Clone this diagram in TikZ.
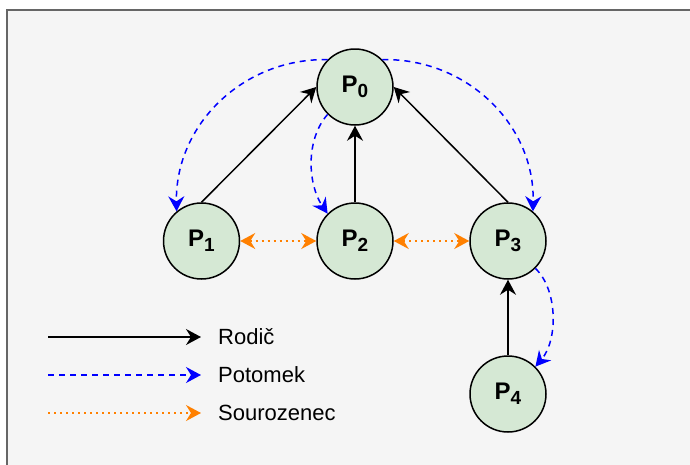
\documentclass[tikz,border=0pt]{standalone}
\usepackage{fontspec}
\setmainfont{Liberation Sans}
\usetikzlibrary{arrows.meta}
\definecolor{bgfill}{HTML}{F5F5F5}
\definecolor{bgline}{HTML}{666666}
\definecolor{nodefill}{HTML}{D5E8D4}
\definecolor{potblue}{HTML}{0000FF}
\definecolor{sorange}{HTML}{FF8000}
\tikzset{
  proc/.style={circle, draw=black, fill=nodefill, line width=1.5pt,
    minimum size=76pt, inner sep=0pt,
    font=\fontsize{24}{28}\selectfont\bfseries},
  tipstyle/.style={-{Stealth[length=15pt,width=16pt,inset=5pt]}},
  rodic/.style={tipstyle, draw=black, line width=1.5pt},
  potomek/.style={tipstyle, draw=potblue, line width=1.5pt,
    dash pattern=on 6pt off 5pt},
  souroz/.style={{Stealth[length=15pt,width=16pt,inset=5pt]}-{Stealth[length=15pt,width=16pt,inset=5pt]},
    draw=sorange, line width=1.5pt, dash pattern=on 2pt off 4pt},
  sourlegend/.style={tipstyle, draw=sorange, line width=1.5pt, dash pattern=on 2pt off 4pt},
  legtext/.style={anchor=west, inner sep=0pt, font=\fontsize{22}{26}\selectfont},
}
\newcommand{\pl}[1]{P\raisebox{-5pt}{\fontsize{19}{22}\selectfont #1}}
\begin{document}
\begin{tikzpicture}[x=1pt,y=-1pt]
\useasboundingbox (0,0) rectangle (690,464);
\fill[bgfill] (7,10) rectangle (700,480);
\draw[bgline, line width=1.8pt] (700,10) -- (7,10) -- (7,480);

\node[proc] (P0) at (355,87) {\pl{0}};
\node[proc] (P1) at (201.5,241) {\pl{1}};
\node[proc] (P2) at (355,241) {\pl{2}};
\node[proc] (P3) at (508,241) {\pl{3}};
\node[proc] (P4) at (508,394) {\pl{4}};

% Rodic (parent) arrows
\draw[rodic] (P1.north) -- (P0.west);
\draw[rodic] (P2.north) -- (P0.south);
\draw[rodic] (P3.north) -- (P0.east);
\draw[rodic] (P4.north) -- (P3.south);

% Potomek (child) arrows
\draw[potomek] (P0.135) .. controls (243,58) and (175,125) .. (P1.130);
\draw[potomek] (P0.45) .. controls (467,58) and (535,125) .. (P3.50);
\draw[potomek] (P0.225) .. controls (305,140) and (308,185) .. (P2.135);
\draw[potomek] (P3.-45) .. controls (558,290) and (558,340) .. (P4.45);

% Sourozenec (sibling) arrows
\draw[souroz] (P1.east) -- (P2.west);
\draw[souroz] (P2.east) -- (P3.west);

% Legend
\coordinate (l1a) at (48,337); \coordinate (l1b) at (201,337);
\coordinate (l2a) at (48,375); \coordinate (l2b) at (201,375);
\coordinate (l3a) at (48,413); \coordinate (l3b) at (201,413);
\draw[rodic] (l1a) -- (l1b);
\draw[potomek] (l2a) -- (l2b);
\draw[sourlegend] (l3a) -- (l3b);
\node[legtext] (t1) at (218,337) {Rodič};
\node[legtext] (t2) at (218,375) {Potomek};
\node[legtext] (t3) at (218,413) {Sourozenec};
\end{tikzpicture}
\end{document}
